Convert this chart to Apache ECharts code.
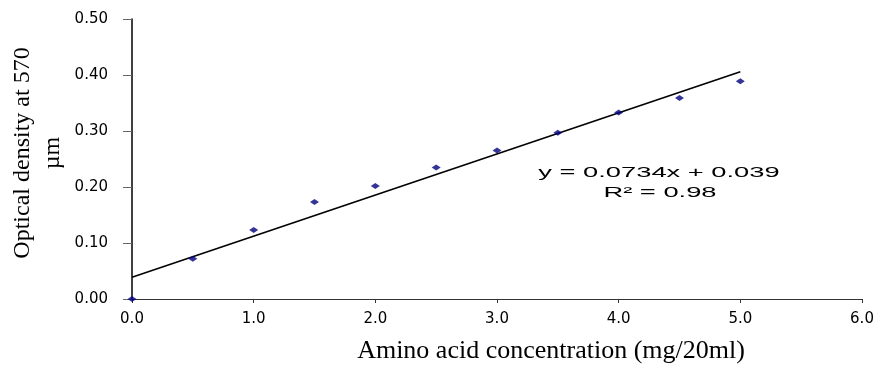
<!DOCTYPE html>
<html>
<head>
<meta charset="utf-8">
<script src="https://cdn.jsdelivr.net/npm/echarts@6/dist/echarts.min.js"></script>
<style>html,body{margin:0;padding:0;background:#fff}#c{width:883px;height:368px}</style>
</head>
<body>
<div id="c"></div>
<script>
const concentration = [0, 0.5, 1.0, 1.5, 2.0, 2.5, 3.0, 3.5, 4.0, 4.5, 5.0];
const opticalDensity = [0.000, 0.072, 0.123, 0.173, 0.202, 0.235, 0.265, 0.297, 0.333, 0.359, 0.389];
const trendX = [0, 5];
const trendY = [0.039, 0.406];
const xTickLabels = ['0.0', '1.0', '2.0', '3.0', '4.0', '5.0', '6.0'];
const yTickLabels = ['0.00', '0.10', '0.20', '0.30', '0.40', '0.50'];
const equationText = 'y = 0.0734x + 0.039';
const r2Text = 'R\u00B2 = 0.98';

const chart = echarts.init(document.getElementById('c'), null, {renderer: 'canvas'});
const sans = '"DejaVu Sans", "Liberation Sans", sans-serif';
const serif = '"Liberation Serif", "Times New Roman", serif';

chart.setOption({
  animation: false,
  backgroundColor: '#ffffff',
  grid: {left: 132, right: 21, top: 19, bottom: 69, containLabel: false, outerBoundsMode: 'none'},
  xAxis: {
    type: 'value', min: 0, max: 6, interval: 1,
    name: 'Amino acid concentration (mg/20ml)',
    nameLocation: 'middle', nameGap: 39, nameMoveOverlap: false,
    nameTextStyle: {fontFamily: serif, fontSize: 26, color: '#000', padding: [0, 0, 0, 108]},
    axisLine: {lineStyle: {color: '#333', width: 1}},
    axisTick: {show: true, length: 4, lineStyle: {color: '#333'}},
    axisLabel: {
      margin: 13, fontFamily: sans, fontSize: 15, color: '#000',
      formatter: v => xTickLabels[Math.round(v)]
    },
    splitLine: {show: false}
  },
  yAxis: {
    type: 'value', min: 0, max: 0.5, interval: 0.1,
    name: 'Optical density at 570\n\u00B5m',
    nameLocation: 'middle', nameGap: 64, nameRotate: 90, nameMoveOverlap: false,
    nameTextStyle: {fontFamily: serif, fontSize: 24, lineHeight: 30, color: '#000', align: 'center', padding: [0, 0, 0, 12]},
    axisLine: {show: true, lineStyle: {color: '#000', width: 1.5}},
    axisTick: {show: true, length: 9, lineStyle: {color: '#666'}},
    axisLabel: {
      margin: 24, fontFamily: sans, fontSize: 15, color: '#000',
      formatter: v => yTickLabels[Math.round(v * 10)]
    },
    splitLine: {show: false}
  },
  series: [
    {
      type: 'line',
      data: trendX.map((x, i) => [x, trendY[i]]),
      symbol: 'none',
      lineStyle: {color: '#000', width: 1.6},
      z: 2
    },
    {
      type: 'scatter',
      data: concentration.map((x, i) => [x, opticalDensity[i]]),
      symbol: 'diamond',
      symbolSize: [9, 6],
      itemStyle: {color: '#000080'},
      clip: false,
      z: 3
    }
  ],
  graphic: [
    {type: 'text', x: 659, y: 173, scaleX: 1.95,
     style: {text: equationText, font: '14px "Liberation Sans", Arial, sans-serif', fill: '#000', align: 'center', verticalAlign: 'middle'}},
    {type: 'text', x: 660, y: 193, scaleX: 1.95,
     style: {text: r2Text, font: '14px "Liberation Sans", Arial, sans-serif', fill: '#000', align: 'center', verticalAlign: 'middle'}}
  ]
});
</script>
</body>
</html>
